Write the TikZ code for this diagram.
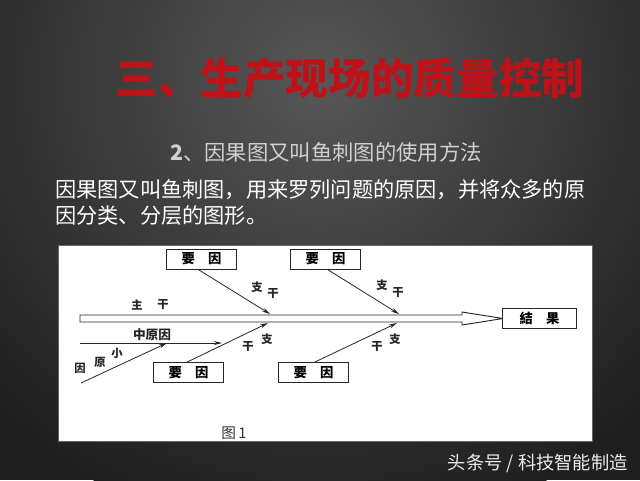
\documentclass[tikz,border=0pt]{standalone}
\usepackage{fontspec}
\newfontfamily\cjk{Noto Sans CJK SC}
\usetikzlibrary{arrows.meta}
\definecolor{titlered}{RGB}{190,18,24}
\definecolor{subgray}{RGB}{208,208,208}
\tikzset{
  yaobox/.style={draw=black!85, line width=0.7pt, fill=white, minimum width=53pt, minimum height=15pt, inner sep=0pt, font=\cjk\fontsize{10}{10}\selectfont\bfseries},
  branch/.style={draw=black!85, line width=0.6pt, -{Stealth[length=6pt,width=3pt]}},
  lbl/.style={font=\cjk\fontsize{8.5}{8.5}\selectfont\bfseries, inner sep=0pt, text=black!85},
}
\begin{document}
\begin{tikzpicture}[x=0.75pt,y=-0.75pt]
\useasboundingbox (0,0) rectangle (640,480);
% background
\fill[black!88] (0,0) rectangle (640,480);
\begin{scope}
\clip (0,0) rectangle (640,480);
\shade[inner color=black!66, outer color=black!88] (320,80) circle (460);
\end{scope}
% title
\node[font=\cjk\fontsize{32}{32}\selectfont\bfseries, text=titlered] (title) at (350,78) {三、生产现场的质量控制};
% subtitle
\node[font=\cjk\fontsize{16}{16}\selectfont, text=subgray] (sub) at (326,152) {{\bfseries 2}、因果图又叫鱼刺图的使用方法};
% body
\node[font=\cjk\fontsize{15.9}{15.9}\selectfont, text=white, anchor=west, inner sep=0pt] (body1) at (55,190) {因果图又叫鱼刺图，用来罗列问题的原因，并将众多的原};
\node[font=\cjk\fontsize{15.9}{15.9}\selectfont, text=white, anchor=west, inner sep=0pt] (body2) at (55,215) {因分类、分层的图形。};
% picture area
\node[fill=white, draw=black!60, line width=0.5pt, minimum width=400.5pt, minimum height=147pt, inner sep=0pt] (img) at (325,343.5) {};
% main spine
\draw[black!85, line width=0.7pt, fill=white] (80,315) -- (462,315) -- (462,312) -- (503,318.5) -- (462,325) -- (462,322) -- (80,322) -- cycle;
% boxes
\node[yaobox] (b1) at (201.5,259) {要\hspace{1em}因};
\node[yaobox] (b2) at (325.5,259) {要\hspace{1em}因};
\node[yaobox] (b3) at (188.5,372.5) {要\hspace{1em}因};
\node[yaobox] (b4) at (313.5,372.5) {要\hspace{1em}因};
\node[yaobox, minimum width=55pt] (res) at (539.5,318.5) {結\hspace{1em}果};
% branch tips
\coordinate (t1) at (270,314);
\coordinate (t2) at (399,314);
\coordinate (t3) at (268,323);
\coordinate (t4) at (397,323);
\draw[branch] ([xshift=-2.5pt]b1.south) -- (t1);
\draw[branch] ([xshift=1.5pt]b2.south) -- (t2);
\draw[branch] ([xshift=-1pt]b3.north) -- (t3);
\draw[branch] ([xshift=1pt]b4.north) -- (t4);
% middle cause
\coordinate (m0) at (80,343);
\coordinate (m1) at (222,343);
\draw[branch] (m0) -- (m1);
% small cause
\coordinate (s0) at (81,383);
\coordinate (s1) at (167,343);
\draw[branch] (s0) -- (s1);
% labels
\node[lbl] (z1) at (257,287) {支};
\node[lbl] (g1) at (273,294) {干};
\node[lbl] (z2) at (382,285) {支};
\node[lbl] (g2) at (398,293) {干};
\node[lbl] (z3) at (267,339) {支};
\node[lbl] (g3) at (248,347) {干};
\node[lbl] (z4) at (395,339) {支};
\node[lbl] (g4) at (377,347) {干};
\node[lbl] (zhu) at (137,305) {主};
\node[lbl] (gan) at (163,305) {干};
\node[lbl, font=\cjk\fontsize{9.5}{9.5}\selectfont\bfseries] (mid) at (152,335) {中原因};
\node[lbl] (x1) at (117,353) {小};
\node[lbl] (x2) at (100,362) {原};
\node[lbl] (x3) at (80,368) {因};
\node[font=\cjk\fontsize{11}{11}\selectfont, inner sep=0pt, text=black!80] (fig) at (234,433) {图\,1};
% footer
\node[font=\cjk\fontsize{13.7}{13.7}\selectfont, text=black!8, anchor=east, inner sep=0pt] (foot) at (628,463) {头条号 / 科技智能制造};
\end{tikzpicture}
\end{document}
